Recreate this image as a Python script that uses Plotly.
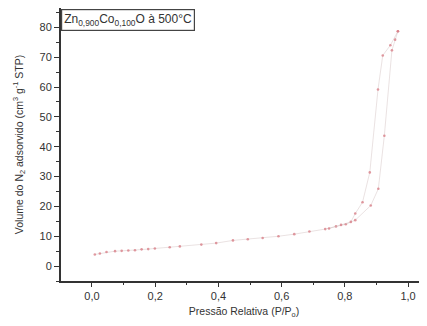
import plotly.graph_objects as go

# Adsorption branch
ads_p = [0.009, 0.025, 0.046, 0.073, 0.094, 0.115, 0.136, 0.157, 0.178, 0.199,
         0.246, 0.278, 0.346, 0.393, 0.446, 0.493, 0.540, 0.590, 0.640, 0.688,
         0.738, 0.772, 0.803, 0.833, 0.882, 0.906, 0.925, 0.949, 0.959, 0.968]
ads_v = [3.9, 4.2, 4.7, 5.0, 5.1, 5.2, 5.3, 5.6, 5.7, 5.9,
         6.3, 6.6, 7.2, 7.7, 8.6, 9.0, 9.4, 10.0, 10.7, 11.6,
         12.4, 13.3, 14.0, 15.4, 20.3, 25.9, 43.7, 72.3, 75.9, 78.7]
# Desorption branch
des_p = [0.968, 0.944, 0.920, 0.905, 0.879, 0.856, 0.833, 0.819, 0.788, 0.750]
des_v = [78.7, 74.0, 70.6, 59.2, 31.4, 21.4, 17.6, 14.8, 13.8, 12.6]

x_tickvals = [0.0, 0.2, 0.4, 0.6, 0.8, 1.0]
x_ticktext = ["0,0", "0,2", "0,4", "0,6", "0,8", "1,0"]
y_tickvals = [0, 10, 20, 30, 40, 50, 60, 70, 80]

fig = go.Figure()
for px, py in [(ads_p, ads_v), (des_p, des_v)]:
    fig.add_trace(go.Scatter(x=px, y=py, mode="lines+markers",
                             line=dict(color="rgba(205,185,185,0.6)", width=0.7),
                             marker=dict(color="rgba(215,120,130,0.75)", size=2.6),
                             showlegend=False))

axis_font = dict(family="Liberation Sans, Arial, sans-serif", size=11, color="#333")
fig.update_layout(
    width=419, height=318,
    margin=dict(l=53, r=0, t=0, b=45, autoexpand=False),
    paper_bgcolor="white", plot_bgcolor="white",
    font=axis_font,
    xaxis=dict(range=[-0.098, 1.06], tickvals=x_tickvals, ticktext=x_ticktext,
               automargin=False,
               showgrid=False, zeroline=False, showline=True, linecolor="#333",
               linewidth=2, mirror=True, ticks="outside", ticklen=4, tickwidth=1.2,
               tickcolor="#333",
               minor=dict(ticks="outside", ticklen=2, dtick=0.1, tick0=0, tickcolor="#333"),
               title=dict(text="Pressão Relativa (P/P<sub>o</sub>)", font=dict(size=10.5, color="#333"),
                          standoff=6)),
    yaxis=dict(range=[-5, 86.5], tickvals=y_tickvals, automargin=False,
               showgrid=False, zeroline=False, showline=True, linecolor="#333",
               linewidth=2, mirror=False, ticks="outside", ticklen=5, tickwidth=1.2,
               tickcolor="#333",
               minor=dict(ticks="outside", ticklen=3, dtick=5, tick0=0, tickcolor="#333"),
               title=dict(text="Volume do N<sub>2</sub> adsorvido (cm<sup>3</sup> g<sup>-1</sup> STP)",
                          font=dict(size=10.5, color="#333"), standoff=14)),
)

fig.add_annotation(xref="paper", yref="paper", x=0.0, y=0.995, xanchor="left", yanchor="top",
                   text="Zn<sub>0,900</sub>Co<sub>0,100</sub>O à 500°C", showarrow=False,
                   font=dict(size=12, color="#333"), bordercolor="#444", borderwidth=1.2,
                   borderpad=2, bgcolor="white")

fig.write_html("out.html")
